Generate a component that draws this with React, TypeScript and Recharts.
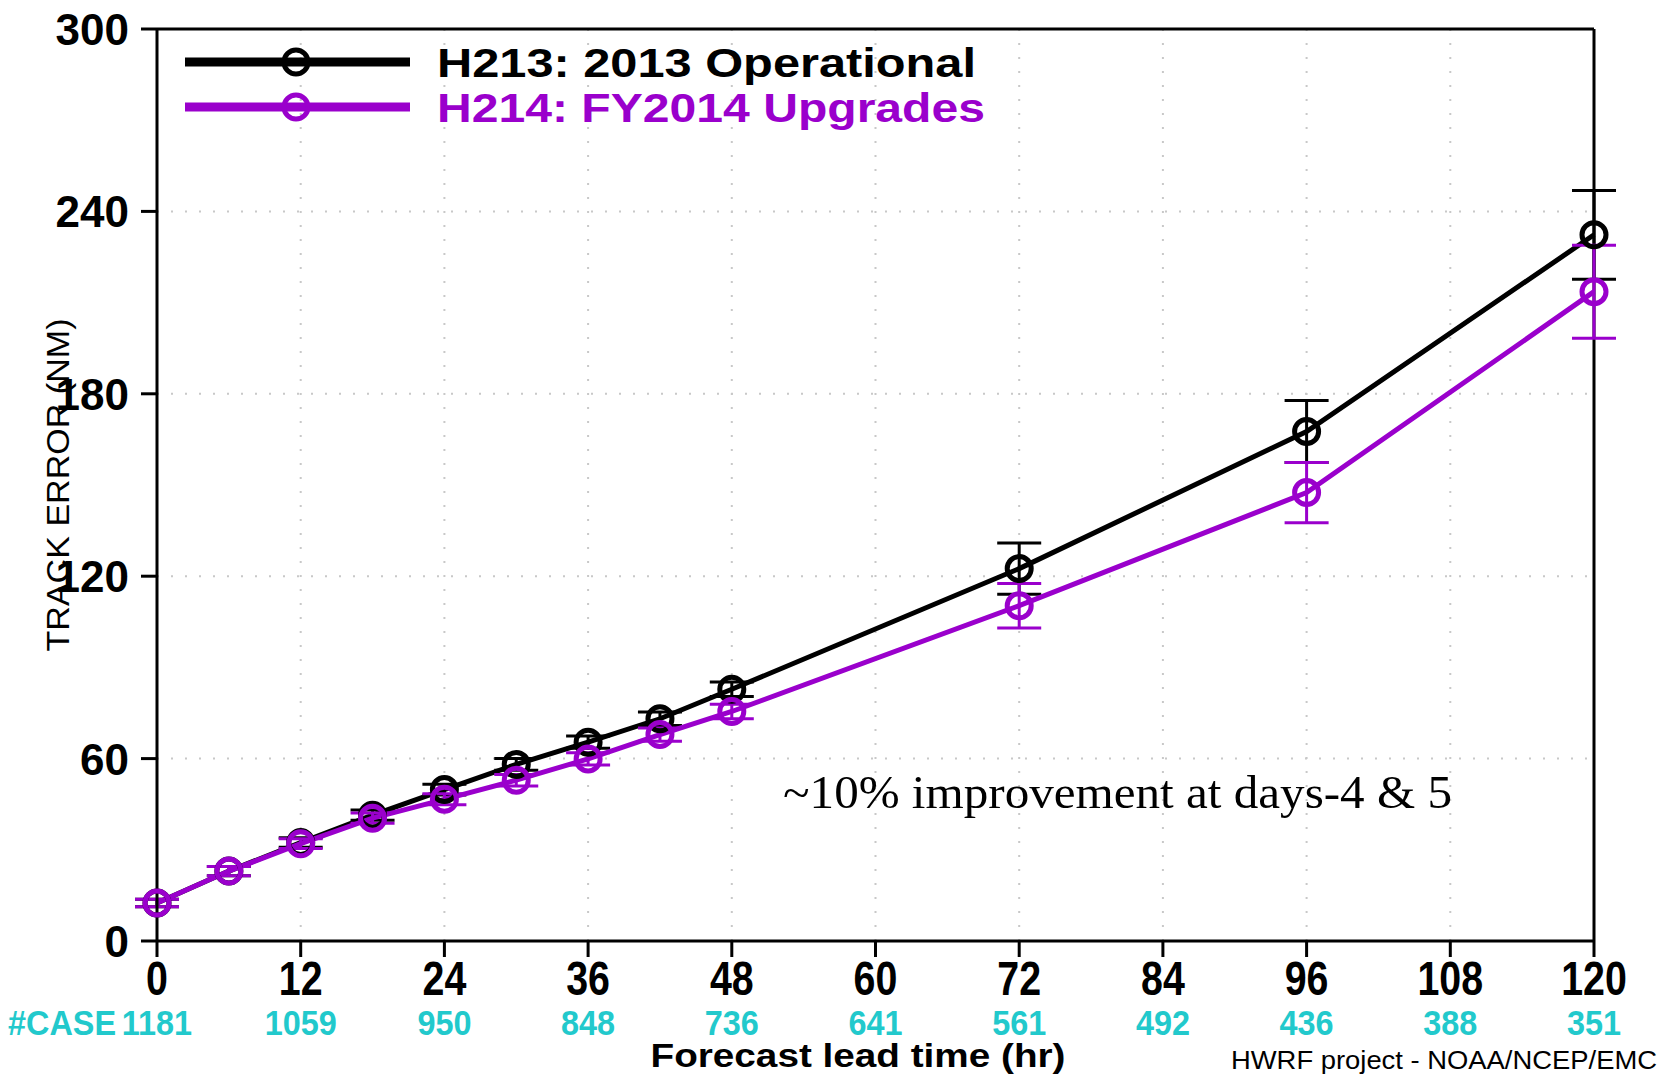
import React from "react"
import { LineChart, Line, XAxis, YAxis, CartesianGrid, ErrorBar, ReferenceLine } from "recharts"

const hours = [0, 6, 12, 18, 24, 30, 36, 42, 48, 72, 96, 120]
const h213 = [12.5, 23, 32.4, 41.4, 49.8, 58.1, 65.4, 73.1, 82.8, 122.5, 167.6, 232.3]
const h214 = [12.5, 23, 32, 40.4, 46.6, 52.9, 59.9, 67.9, 75.5, 110.3, 147.5, 213.6]
const h213Err = [1.2, 1.5, 1.6, 1.7, 1.8, 1.9, 2, 2.2, 2.4, 8.4, 10.2, 14.6]
const h214Err = [1.2, 1.5, 1.6, 1.7, 1.8, 1.9, 2, 2.2, 2.4, 7.3, 9.9, 15.3]

const xTicks = [0, 12, 24, 36, 48, 60, 72, 84, 96, 108, 120]
const caseCounts = [1181, 1059, 950, 848, 736, 641, 561, 492, 436, 388, 351]
const yTicks = [0, 60, 120, 180, 240, 300]

const BLACK = "#000000"
const PURPLE = "#9a00cc"
const CYAN = "#22c9cc"
const SANS = "'Liberation Sans', Arial, sans-serif"

const data = hours.map((h, i) => ({
  hour: h,
  h213: h213[i],
  h214: h214[i],
  e213: [h213Err[i], h213Err[i]],
  e214: [h214Err[i], h214Err[i]],
}))

function XTick(props: any) {
  const { x, y, payload } = props
  const idx = xTicks.indexOf(payload.value)
  return (
    <g>
      <text
        transform={`translate(${x},${y + 36}) scale(0.82,1)`}
        textAnchor="middle"
        fontFamily={SANS}
        fontWeight="bold"
        fontSize={48}
        fill={BLACK}
      >
        {payload.value}
      </text>
      {idx === 0 && (
        <text
          transform={`translate(${x - 41},${y + 76}) scale(0.9,1)`}
          textAnchor="end"
          fontFamily={SANS}
          fontWeight="bold"
          fontSize={36}
          fill={CYAN}
        >
          #CASE
        </text>
      )}
      <text
        transform={`translate(${x},${y + 76}) scale(0.9,1)`}
        textAnchor="middle"
        fontFamily={SANS}
        fontWeight="bold"
        fontSize={36}
        fill={CYAN}
      >
        {caseCounts[idx]}
      </text>
    </g>
  )
}

function YTick(props: any) {
  const { x, y, payload } = props
  return (
    <text x={x - 10} y={y + 16} textAnchor="end" fontFamily={SANS} fontWeight="bold" fontSize={44} fill={BLACK}>
      {payload.value}
    </text>
  )
}

const dot = (color: string) => ({ r: 12, stroke: color, strokeWidth: 5, fill: "none" })

export default function App() {
  return (
    <div style={{ position: "absolute", left: 0, top: 0, width: 1659, height: 1074, background: "#fff" }}>
      <LineChart
        width={1659}
        height={1074}
        data={data}
        margin={{ top: 29, right: 65, bottom: 93, left: 77 }}
      >
        <CartesianGrid stroke="#c8c8c8" strokeDasharray="2 12" strokeWidth={2} />
        <XAxis
          dataKey="hour"
          type="number"
          domain={[0, 120]}
          ticks={xTicks}
          height={40}
          axisLine={{ stroke: BLACK, strokeWidth: 3 }}
          tickLine={{ stroke: BLACK, strokeWidth: 3 }}
          tickSize={16}
          tick={<XTick />}
          interval={0}
        />
        <YAxis
          type="number"
          domain={[0, 300]}
          ticks={yTicks}
          width={80}
          axisLine={{ stroke: BLACK, strokeWidth: 3 }}
          tickLine={{ stroke: BLACK, strokeWidth: 3 }}
          tickSize={16}
          tick={<YTick />}
          interval={0}
        />
        <ReferenceLine y={300} stroke={BLACK} strokeWidth={3} />
        <ReferenceLine x={120} stroke={BLACK} strokeWidth={3} />
        <Line
          dataKey="h213"
          stroke={BLACK}
          strokeWidth={5}
          dot={dot(BLACK)}
          activeDot={false}
          isAnimationActive={false}
        >
          <ErrorBar dataKey="e213" width={22} stroke={BLACK} strokeWidth={3} direction="y" />
        </Line>
        <Line
          dataKey="h214"
          stroke={PURPLE}
          strokeWidth={5}
          dot={dot(PURPLE)}
          activeDot={false}
          isAnimationActive={false}
        >
          <ErrorBar dataKey="e214" width={22} stroke={PURPLE} strokeWidth={3} direction="y" />
        </Line>
      </LineChart>
      <svg width={1659} height={1074} style={{ position: "absolute", left: 0, top: 0, pointerEvents: "none" }}>
        <line x1={185} x2={410} y1={62} y2={62} stroke={BLACK} strokeWidth={9} />
        <circle cx={296} cy={62} r={12} stroke={BLACK} strokeWidth={5} fill="none" />
        <text
          x={437}
          y={77}
          fontFamily={SANS}
          fontWeight="bold"
          fontSize={40}
          fill={BLACK}
          textLength={539}
          lengthAdjust="spacingAndGlyphs"
        >
          H213: 2013 Operational
        </text>
        <line x1={185} x2={410} y1={107} y2={107} stroke={PURPLE} strokeWidth={9} />
        <circle cx={296} cy={107} r={12} stroke={PURPLE} strokeWidth={5} fill="none" />
        <text
          x={437}
          y={122}
          fontFamily={SANS}
          fontWeight="bold"
          fontSize={40}
          fill={PURPLE}
          textLength={548}
          lengthAdjust="spacingAndGlyphs"
        >
          H214: FY2014 Upgrades
        </text>
        <text
          x={783}
          y={808}
          fontFamily="'Liberation Serif', 'DejaVu Serif', serif"
          fontSize={47}
          fill={BLACK}
          textLength={669}
          lengthAdjust="spacingAndGlyphs"
        >
          ~10% improvement at days-4 &amp; 5
        </text>
        <text
          x={58}
          y={485}
          transform="rotate(-90 58 485)"
          textAnchor="middle"
          dominantBaseline="central"
          fontFamily={SANS}
          fontSize={32}
          fill={BLACK}
          textLength={333}
          lengthAdjust="spacingAndGlyphs"
        >
          TRACK ERROR (NM)
        </text>
        <text
          x={858}
          y={1067}
          textAnchor="middle"
          fontFamily={SANS}
          fontWeight="bold"
          fontSize={34}
          fill={BLACK}
          textLength={415}
          lengthAdjust="spacingAndGlyphs"
        >
          Forecast lead time (hr)
        </text>
        <text
          x={1657}
          y={1069}
          textAnchor="end"
          fontFamily={SANS}
          fontSize={25}
          fill={BLACK}
          textLength={426}
          lengthAdjust="spacingAndGlyphs"
        >
          HWRF project - NOAA/NCEP/EMC
        </text>
      </svg>
    </div>
  )
}
